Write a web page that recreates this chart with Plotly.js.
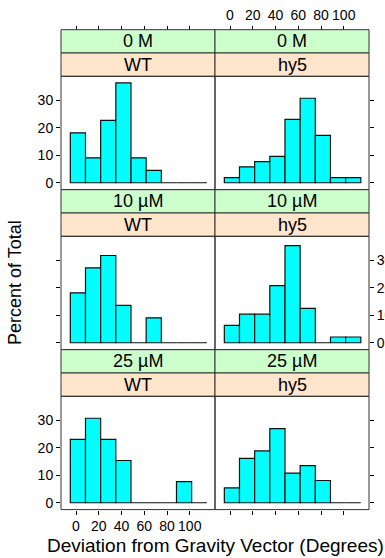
<!DOCTYPE html>
<html>
<head>
<meta charset="utf-8">
<script src="https://cdn.plot.ly/plotly-3.0.1.min.js"></script>
<style>html,body{margin:0;padding:0;background:#fff;}#chart{width:385px;height:558px;}</style>
</head>
<body>
<div id="chart"></div>
<script>
// ---- data ----
const binEdges = [-5, 8.33, 21.67, 35, 48.33, 61.67, 75, 88.33, 101.67, 115];
const concentrations = ['0 M', '10 µM', '25 µM'];
const genotypes = ['WT', 'hy5'];
const pct_0M_WT    = [18.2, 9.1, 22.7, 36.4, 9.1, 4.5, 0, 0, 0];
const pct_0M_hy5   = [1.9, 5.8, 7.7, 9.6, 23.1, 30.8, 17.3, 1.9, 1.9];
const pct_10uM_WT  = [18.2, 27.3, 31.8, 13.6, 0, 9.1, 0, 0, 0];
const pct_10uM_hy5 = [6.3, 10.4, 10.4, 20.8, 35.4, 12.5, 0, 2.1, 2.1];
const pct_25uM_WT  = [23.1, 30.8, 23.1, 15.4, 0, 0, 0, 7.7, 0];
const pct_25uM_hy5 = [5.4, 16.2, 18.9, 27.0, 10.8, 13.5, 8.1, 0, 0];
const xTicks = [0, 20, 40, 60, 80, 100];
const yTicks = [0, 10, 20, 30];
const xTitle = 'Deviation from Gravity Vector (Degrees)';
const yTitle = 'Percent of Total';

const panelValues = [
  [pct_0M_WT, pct_0M_hy5],
  [pct_10uM_WT, pct_10uM_hy5],
  [pct_25uM_WT, pct_25uM_hy5]
];

// ---- layout geometry ----
const W = 385, H = 558;
const cols = [[61, 215], [215, 369]];
const rowTop = [29.7, 189.7, 349.7];
const stripH = 23.3, panelH = 113.3;
const FONT = 'Liberation Sans, Arial, sans-serif';
const BORDER = '#333';
const py = p => 1 - p / H;
const pxX = p => p / W;

const mids = binEdges.slice(0, -1).map((e, i) => (e + binEdges[i + 1]) / 2);
const widths = binEdges.slice(0, -1).map((e, i) => binEdges[i + 1] - e);

const traces = [];
const layout = {
  width: W, height: H,
  margin: {l: 0, r: 0, t: 0, b: 0},
  paper_bgcolor: '#fff', plot_bgcolor: '#fff',
  showlegend: false,
  font: {family: FONT, size: 14, color: '#000'},
  shapes: [], annotations: []
};

for (let r = 0; r < 3; r++) {
  for (let c = 0; c < 2; c++) {
    const i = r * 2 + c + 1;
    const xa = 'x' + (i === 1 ? '' : i), ya = 'y' + (i === 1 ? '' : i);
    const xk = 'xaxis' + (i === 1 ? '' : i), yk = 'yaxis' + (i === 1 ? '' : i);
    const pTop = rowTop[r] + 2 * stripH, pBot = pTop + panelH;
    traces.push({
      type: 'bar', x: mids, y: panelValues[r][c], width: widths,
      xaxis: xa, yaxis: ya,
      marker: {color: '#00FFFF', line: {color: '#111', width: 1.2}},
      hoverinfo: 'skip'
    });
    const xax = {
      domain: [pxX(cols[c][0]), pxX(cols[c][1])],
      range: [-13.2, 122.2], tickvals: xTicks, ticktext: xTicks.map(String),
      showgrid: false, zeroline: false, showline: false,
      ticks: 'outside', ticklen: 4, tickwidth: 1, tickcolor: '#000',
      tickfont: {family: FONT, size: 14, color: '#000'}
    };
    if (r === 0) {
      xax.side = 'top'; xax.anchor = 'free'; xax.position = py(rowTop[0]);
      xax.showticklabels = (c === 1);
    } else if (r === 2) {
      xax.side = 'bottom'; xax.anchor = ya;
      xax.showticklabels = (c === 0);
    } else {
      xax.anchor = ya; xax.ticks = ''; xax.showticklabels = false;
    }
    layout[xk] = xax;
    layout[yk] = {
      domain: [py(pBot), py(pTop)], anchor: xa,
      range: [-2.5, 38.8], tickvals: yTicks, ticktext: yTicks.map(String),
      showgrid: false, zeroline: false, showline: false,
      ticks: 'outside', ticklen: 4, tickwidth: 1, tickcolor: '#000',
      side: c === 0 ? 'left' : 'right',
      showticklabels: c === 0 ? (r !== 1) : (r === 1),
      tickfont: {family: FONT, size: 14, color: '#000'}
    };
    // strips
    const x0 = pxX(cols[c][0]), x1 = pxX(cols[c][1]);
    layout.shapes.push({type: 'rect', xref: 'paper', yref: 'paper', x0, x1,
      y0: py(rowTop[r] + stripH), y1: py(rowTop[r]),
      fillcolor: '#CCFFCC', line: {color: BORDER, width: 1}});
    layout.shapes.push({type: 'rect', xref: 'paper', yref: 'paper', x0, x1,
      y0: py(rowTop[r] + 2 * stripH), y1: py(rowTop[r] + stripH),
      fillcolor: '#FFE5CC', line: {color: BORDER, width: 1}});
    layout.shapes.push({type: 'rect', xref: 'paper', yref: 'paper', x0, x1,
      y0: py(pBot), y1: py(pTop), fillcolor: 'rgba(0,0,0,0)', line: {color: BORDER, width: 1}});
    layout.annotations.push({xref: 'paper', yref: 'paper', x: (x0 + x1) / 2,
      y: py(rowTop[r] + stripH / 2), text: concentrations[r], showarrow: false,
      xanchor: 'center', yanchor: 'middle', font: {family: FONT, size: 18, color: '#000'}});
    layout.annotations.push({xref: 'paper', yref: 'paper', x: (x0 + x1) / 2,
      y: py(rowTop[r] + 1.5 * stripH), text: genotypes[c], showarrow: false,
      xanchor: 'center', yanchor: 'middle', font: {family: FONT, size: 18, color: '#000'}});
  }
}
layout.annotations.push({xref: 'paper', yref: 'paper', x: pxX(215), y: py(545),
  text: xTitle, showarrow: false, xanchor: 'center', yanchor: 'middle',
  font: {family: FONT, size: 19, color: '#000'}});
layout.annotations.push({xref: 'paper', yref: 'paper', x: pxX(15), y: py(283),
  text: yTitle, showarrow: false, textangle: -90, xanchor: 'center', yanchor: 'middle',
  font: {family: FONT, size: 18, color: '#000'}});

Plotly.newPlot('chart', traces, layout, {staticPlot: true, displayModeBar: false});
</script>
</body>
</html>
